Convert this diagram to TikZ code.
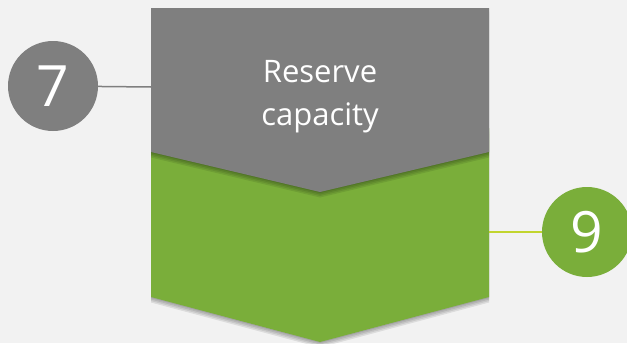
\documentclass[tikz,border=0pt]{standalone}
\usepackage{fontspec}
\setmainfont{Open Sans}
\definecolor{bg}{HTML}{F2F2F2}
\definecolor{gr}{HTML}{7F7F7F}
\definecolor{gn}{HTML}{7AAE3A}
\definecolor{ln}{HTML}{C2D52E}
\begin{document}
\begin{tikzpicture}[x=1pt,y=-1pt,
  numcirc/.style={circle,minimum size=90pt,inner sep=0pt,text=white,font=\fontsize{57}{57}\selectfont},
  shad/.style={fill=black,opacity=0.09}]
\useasboundingbox (0,0) rectangle (627,343);
\fill[bg] (0,0) rectangle (627,343);
% green chevron shadow
\foreach \d in {1,2.5,4,5.5}{
  \fill[shad] (151,128+\d) -- (489,128+\d) -- (489,297+\d) -- (320,342+\d) -- (151,297+\d) -- cycle;
}
% green chevron
\fill[gn] (151,128) -- (489,128) -- (489,297) -- (320,342) -- (151,297) -- cycle;
% gray chevron shadow
\foreach \d in {1,2.5,4,5.5}{
  \fill[shad] (151,8+\d) -- (489,8+\d) -- (489,152+\d) -- (320,192+\d) -- (151,152+\d) -- cycle;
}
% gray chevron
\fill[gr] (151,8) -- (489,8) -- (489,152) -- (320,192) -- (151,152) -- cycle;
\coordinate (g7) at (151,87);
\coordinate (g9) at (489,232);
\node[text=white,align=center,font=\fontsize{31}{43}\selectfont] (t) at (320,97) {Reserve\\capacity};
\node[numcirc,fill=gr] (c7) at (53,86) {7};
\node[numcirc,fill=gn] (c9) at (587,232) {9};
\draw[gr,line width=1.5pt] (c7) -- (g7);
\draw[ln,line width=1.5pt] (g9) -- (c9);
\end{tikzpicture}
\end{document}
